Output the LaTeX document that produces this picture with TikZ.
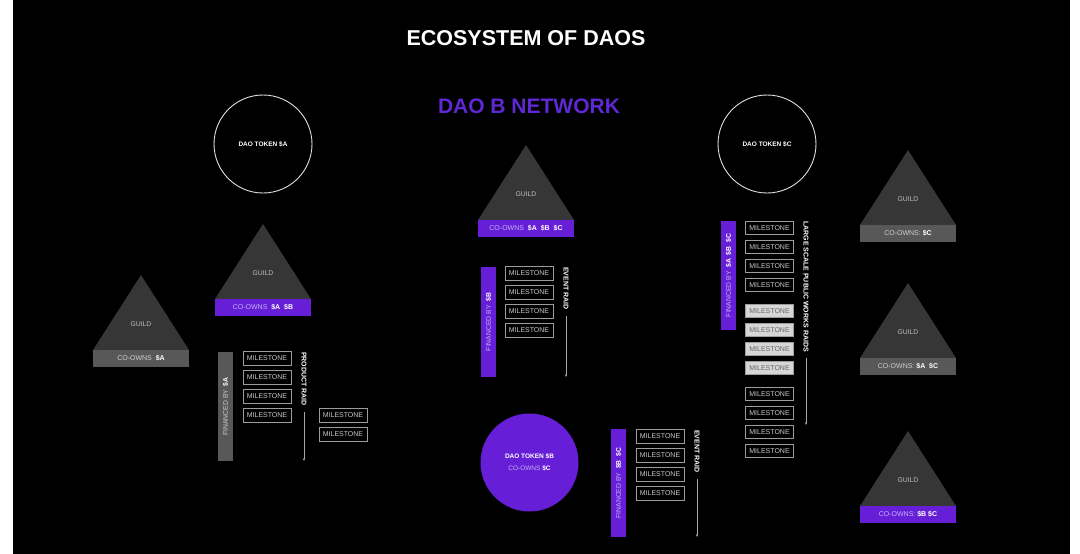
\documentclass[tikz,border=0pt]{standalone}
\usepackage{fontspec}
\setmainfont{Liberation Sans}
\usetikzlibrary{arrows.meta}
\definecolor{dpurple}{HTML}{661ED6}
\definecolor{ttl}{HTML}{5F28D4}
\definecolor{tri}{HTML}{363636}
\definecolor{gbar}{HTML}{585858}
\definecolor{lav}{HTML}{C7B3F7}
\definecolor{gtxt}{HTML}{CFCFCF}
\definecolor{msline}{HTML}{9C9C9C}
\definecolor{mstext}{HTML}{C8C8C8}
\definecolor{msfill}{HTML}{D6D6D6}
\tikzset{
  ms/.style={draw=msline, line width=0.8pt, minimum width=48pt, minimum height=13.5pt, inner sep=0pt,
    font=\fontsize{7}{8}\selectfont, text=mstext},
  mslight/.style={ms, fill=msfill, text=black!60},
  finbar/.style={rotate=90, minimum height=15pt, inner sep=0pt, font=\fontsize{6.8}{8}\selectfont},
  raidlabel/.style={rotate=-90, anchor=west, font=\bfseries\fontsize{7}{8}\selectfont, text=white, inner sep=0pt},
  raidline/.style={draw=black!35, line width=0.6pt, -{Stealth[length=3pt,width=2.4pt]}},
  guildtxt/.style={font=\fontsize{6.8}{8}\selectfont, text=black!25, inner sep=0pt},
  barnode/.style={minimum width=96pt, minimum height=17pt, inner sep=0pt, font=\fontsize{7}{8}\selectfont},
  tokcircle/.style={circle, draw=black!12, line width=0.9pt, minimum size=98pt, inner sep=0pt,
    font=\bfseries\fontsize{6.5}{8}\selectfont, text=white},
}
\newcommand\guildshape[5]{%
  \fill[tri] (#2,#3) -- (#2+48,#3+75) -- (#2-48,#3+75) -- cycle;
  \node[guildtxt] (#1) at (#2,#3+49) {GUILD};
  \node[barnode, fill=#4] (#1bar) at (#2,#3+83.5) {#5};
}
\newcommand\pco[1]{{\color{lav}CO-OWNS}\ \ \textbf{\color{white}#1}}
\newcommand\gco[1]{{\color{gtxt}CO-OWNS}\ \ \textbf{\color{white}#1}}
\begin{document}
\begin{tikzpicture}[x=1pt,y=-1pt]
\useasboundingbox (0,0) rectangle (1080,554);
\fill[white] (0,0) rectangle (1080,554);
\fill[black] (13,0) rectangle (1070,554);

% titles
\node[font=\bfseries\fontsize{21.5}{24}\selectfont, text=white] (title) at (526,38) {ECOSYSTEM OF DAOS};
\node[font=\bfseries\fontsize{21}{24}\selectfont, text=ttl] (net) at (529,106) {DAO B NETWORK};

% token circles
\node[tokcircle] (ta) at (263,144) {DAO TOKEN \$A};
\node[tokcircle] (tc) at (767,144) {DAO TOKEN \$C};
\node[circle, fill=dpurple, minimum size=98pt, inner sep=0pt, align=center, text=white,
  font=\fontsize{6.5}{8}\selectfont] (tb) at (529.5,462.5)
  {\textbf{DAO TOKEN \$B}\\[4pt]{\color{lav}CO-OWNS} \textbf{\$C}};

% guilds
\guildshape{g1}{141}{275}{gbar}{\gco{\$A}}
\guildshape{g2}{263}{224}{dpurple}{\pco{\$A\ \ \$B}}
\guildshape{g3}{526}{145}{dpurple}{\pco{\$A\ \ \$B\ \ \$C}}
\guildshape{g4}{908}{150}{gbar}{{\color{gtxt}CO-OWNS:}\ \textbf{\color{white}\$C}}
\guildshape{g5}{908}{283}{gbar}{{\color{gtxt}CO-OWNS:}\ \textbf{\color{white}\$A\ \ \$C}}
\guildshape{g6}{908}{431}{dpurple}{{\color{lav}CO-OWNS:}\ \textbf{\color{white}\$B\ \$C}}

% group A : product raid
\node[finbar, fill=gbar, minimum width=109pt, text=gtxt] (finA) at (225.5,406.5) {FINANCED BY\ \ \textbf{\color{white}\$A}};
\node[ms] (a1) at (267,358.5) {MILESTONE};
\node[ms] (a2) at (267,377.5) {MILESTONE};
\node[ms] (a3) at (267,396.5) {MILESTONE};
\node[ms] (a4) at (267,415.5) {MILESTONE};
\node[ms] (a5) at (343,415.5) {MILESTONE};
\node[ms] (a6) at (343,434.5) {MILESTONE};
\node[raidlabel] (raidA) at (304,352) {PRODUCT RAID};
\coordinate (raidAend) at (304,461);
\draw[raidline] ([yshift=-6pt]raidA.east) -- (raidAend);

% group B : event raid
\node[finbar, fill=dpurple, minimum width=110pt, text=lav] (finB) at (488.5,322) {FINANCED BY\ \ \textbf{\color{white}\$B}};
\node[ms] (b1) at (529,273.5) {MILESTONE};
\node[ms] (b2) at (529,292.5) {MILESTONE};
\node[ms] (b3) at (529,311.5) {MILESTONE};
\node[ms] (b4) at (529,330.5) {MILESTONE};
\node[raidlabel] (raidB) at (566,267) {EVENT RAID};
\coordinate (raidBend) at (566,377);
\draw[raidline] ([yshift=-6pt]raidB.east) -- (raidBend);

% group C : event raid
\node[finbar, fill=dpurple, minimum width=108pt, text=lav] (finC) at (618.5,483) {FINANCED BY\ \ \textbf{\color{white}\$B\ \ \$C}};
\node[ms] (c1) at (660,436.5) {MILESTONE};
\node[ms] (c2) at (660,455.5) {MILESTONE};
\node[ms] (c3) at (660,474.5) {MILESTONE};
\node[ms] (c4) at (660,493.5) {MILESTONE};
\node[raidlabel] (raidC) at (697,430) {EVENT RAID};
\coordinate (raidCend) at (697,537);
\draw[raidline] ([yshift=-6pt]raidC.east) -- (raidCend);

% group D : large scale public works raids
\node[finbar, fill=dpurple, minimum width=109pt, text=lav] (finD) at (728.5,275.5) {FINANCED BY\ \ \textbf{\color{white}\$A\ \ \$B\ \ \$C}};
\node[ms] (d1) at (769.5,228) {MILESTONE};
\node[ms] (d2) at (769.5,247) {MILESTONE};
\node[ms] (d3) at (769.5,266) {MILESTONE};
\node[ms] (d4) at (769.5,285) {MILESTONE};
\node[mslight] (d5) at (769.5,311) {MILESTONE};
\node[mslight] (d6) at (769.5,330) {MILESTONE};
\node[mslight] (d7) at (769.5,349) {MILESTONE};
\node[mslight] (d8) at (769.5,368) {MILESTONE};
\node[ms] (d9) at (769.5,394) {MILESTONE};
\node[ms] (d10) at (769.5,413) {MILESTONE};
\node[ms] (d11) at (769.5,432) {MILESTONE};
\node[ms] (d12) at (769.5,451) {MILESTONE};
\node[raidlabel] (raidD) at (806,221) {LARGE SCALE PUBLIC WORKS RAIDS};
\coordinate (raidDend) at (806,425);
\draw[raidline] ([yshift=-6pt]raidD.east) -- (raidDend);
\end{tikzpicture}
\end{document}
